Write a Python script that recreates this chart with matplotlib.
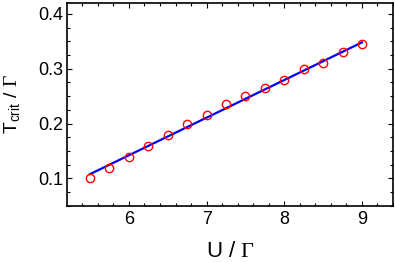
import numpy as np
from matplotlib import pyplot as plt

plt.rcParams['font.family'] = ['Liberation Sans', 'DejaVu Sans']
plt.rcParams['mathtext.fontset'] = 'custom'
plt.rcParams['mathtext.rm'] = 'Liberation Sans'
plt.rcParams['mathtext.sf'] = 'Liberation Serif'

# Data
u_vals = [5.5, 5.75, 6.0, 6.25, 6.5, 6.75, 7.0, 7.25, 7.5, 7.75, 8.0, 8.25, 8.5, 8.75, 9.0]
t_crit = [0.100, 0.120, 0.140, 0.160, 0.180, 0.200, 0.215, 0.235, 0.250, 0.265,
          0.280, 0.300, 0.310, 0.330, 0.345]
fit_u = [5.5, 9.0]
fit_t = [0.108, 0.348]

x_ticks = [6, 7, 8, 9]
y_ticks = [0.1, 0.2, 0.3, 0.4]

fig = plt.figure(figsize=(3.95, 2.62), dpi=100)
ax = fig.add_axes([0.169, 0.214, 0.826, 0.775])

ax.plot(fit_u, fit_t, color='#0000ff', lw=1.6, zorder=2)
ax.plot(u_vals, t_crit, 'o', ms=6, mfc='none', mec='#ff0000', mew=1.0, zorder=3)

ax.set_xlim(5.2, 9.4)
ax.set_ylim(0.05, 0.42)
ax.set_xticks(x_ticks)
ax.set_yticks(y_ticks)
ax.set_xticks(np.arange(5.4, 9.41, 0.2), minor=True)
ax.set_yticks(np.arange(0.05, 0.421, 0.025), minor=True)

ax.tick_params(which='both', direction='in', top=True, right=True, labelsize=13)
ax.tick_params(which='major', length=3.5, width=0.8)
ax.tick_params(which='minor', length=2, width=0.8)
ax.tick_params(axis='x', pad=4)
ax.tick_params(axis='y', pad=2.5)
for s in ax.spines.values():
    s.set_linewidth(1.2)

ax.set_xlabel(r'U / $\mathsf{\Gamma}$', fontsize=16)
ax.set_ylabel(r'T$_{\mathrm{crit}}$ / $\mathsf{\Gamma}$', fontsize=14)
ax.xaxis.set_label_coords(0.5, -0.172)
ax.yaxis.set_label_coords(-0.134, 0.5)

fig.savefig('out.png', dpi=100)
